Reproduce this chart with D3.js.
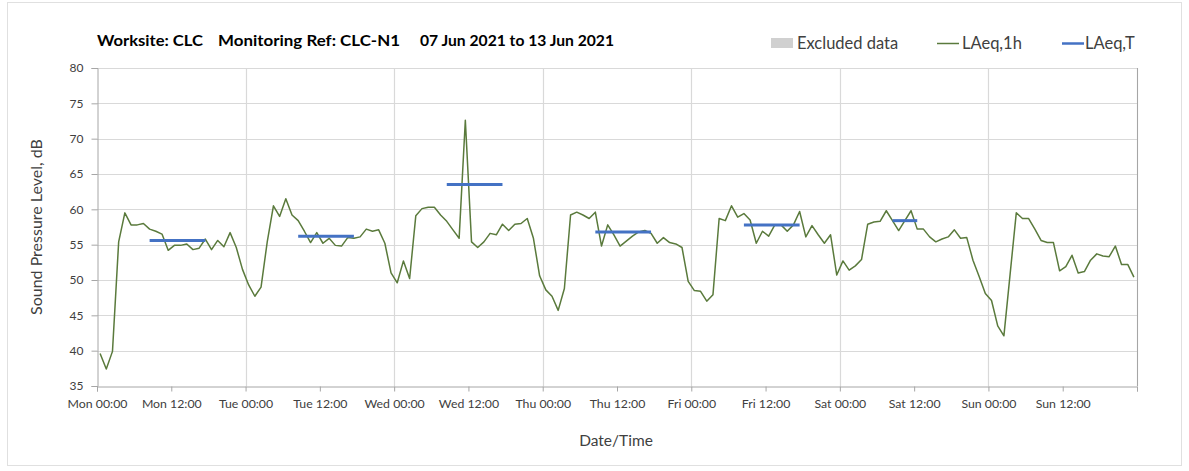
<!DOCTYPE html>
<html>
<head>
<meta charset="utf-8">
<script src="https://cdn.jsdelivr.net/npm/d3@7/dist/d3.min.js"></script>
<style>
  html, body { margin: 0; padding: 0; background: #ffffff; }
  svg { display: block; font-family: Lato, "Open Sans", sans-serif; }
</style>
</head>
<body>
<svg id="chart" width="1189" height="471"></svg>
<script>
// ---- Data ----
const startDate = new Date(2021, 5, 7, 0, 0);   // Mon 07 Jun 2021 00:00
const endDate = new Date(2021, 5, 14, 0, 0);    // Mon 14 Jun 2021 00:00

// Hourly LAeq,1h values (one per hour from Mon 00:00)
const laeq1h = [
  39.6, 37.4, 39.9, 55.4, 59.5, 57.8, 57.8, 58.0, 57.2, 56.9, 56.5, 54.2,
  54.9, 54.9, 55.1, 54.3, 54.5, 55.8, 54.3, 55.6, 54.7, 56.7, 54.6, 51.5,
  49.3, 47.7, 49.0, 55.4, 60.5, 59.0, 61.5, 59.2, 58.4, 56.9, 55.3, 56.7,
  55.2, 55.9, 54.9, 54.8, 56.0, 55.9, 56.1, 57.2, 56.9, 57.1, 55.2, 51.0,
  49.6, 52.7, 50.2, 59.1, 60.1, 60.3, 60.3, 59.2, 58.3, 57.1, 55.9, 72.6,
  55.4, 54.6, 55.4, 56.6, 56.4, 57.9, 57.0, 57.9, 58.0, 58.7, 55.9, 50.6,
  48.6, 47.7, 45.7, 48.8, 59.2, 59.6, 59.2, 58.7, 59.6, 54.8, 57.8, 56.4,
  54.8, 55.5, 56.2, 56.8, 57.0, 56.6, 55.2, 56.0, 55.3, 55.1, 54.6, 49.8,
  48.5, 48.4, 47.0, 47.9, 58.7, 58.4, 60.5, 58.9, 59.4, 58.5, 55.2, 56.9,
  56.2, 57.8, 57.8, 56.9, 57.8, 59.7, 56.1, 57.7, 56.4, 55.2, 56.4, 50.7,
  52.7, 51.4, 52.0, 52.9, 57.9, 58.2, 58.3, 59.8, 58.4, 57.0, 58.4, 59.8,
  57.2, 57.2, 56.1, 55.4, 55.8, 56.1, 57.1, 55.9, 56.0, 52.8, 50.5, 48.1,
  47.1, 43.5, 42.1, 50.8, 59.5, 58.7, 58.7, 57.2, 55.6, 55.3, 55.3, 51.3,
  51.9, 53.5, 51.0, 51.2, 52.8, 53.7, 53.4, 53.3, 54.8, 52.2, 52.2, 50.4
];

// LAeq,T periods: first and last hourly interval (hours from Mon 00:00) and level
const periodFirstHour = [8, 32, 56, 80, 104, 128];
const periodLastHour  = [17, 41, 65, 89, 113, 132];
const laeqT           = [55.6, 56.2, 63.5, 56.8, 57.8, 58.4];

const yTicks = [35, 40, 45, 50, 55, 60, 65, 70, 75, 80];
const dayNames = ["Sun", "Mon", "Tue", "Wed", "Thu", "Fri", "Sat"];

const titleParts = ["Worksite: CLC", "Monitoring Ref: CLC-N1", "07 Jun 2021 to 13 Jun 2021"];
const legendLabels = ["Excluded data", "LAeq,1h", "LAeq,T"];

// ---- Layout ----
const svg = d3.select("#chart");
const W = 1189, H = 471;
const plot = { left: 97, right: 1137, top: 68, bottom: 386 };

const hourMs = 3600 * 1000;
const intervalMid = h => new Date(startDate.getTime() + (h + 0.5) * hourMs);

const x = d3.scaleTime().domain([startDate, endDate]).range([plot.left, plot.right]);
const y = d3.scaleLinear().domain([35, 80]).range([plot.bottom, plot.top]);

const gridColor = "#d9d9d9";
const axisColor = "#a6a6a6";
const textColor = "#404040";
const greenColor = "#5a7a3c";
const blueColor = "#4472c4";

// outer chart border
svg.append("rect")
  .attr("x", 7.5).attr("y", 2.5).attr("width", W - 15).attr("height", H - 8)
  .attr("fill", "none").attr("stroke", "#e0e0e0").attr("stroke-width", 1);

// horizontal gridlines
svg.append("g").selectAll("line").data(yTicks.filter(v => v > 35)).join("line")
  .attr("x1", plot.left).attr("x2", plot.right)
  .attr("y1", d => Math.round(y(d)) + 0.5).attr("y2", d => Math.round(y(d)) + 0.5)
  .attr("stroke", gridColor).attr("stroke-width", 1.2);

// vertical gridlines at day boundaries
const dayTicks = d3.timeDay.range(d3.timeDay.offset(startDate, 1), d3.timeDay.offset(endDate, 1));
svg.append("g").selectAll("line").data(dayTicks).join("line")
  .attr("x1", d => Math.round(x(d)) + 0.5).attr("x2", d => Math.round(x(d)) + 0.5)
  .attr("y1", plot.top).attr("y2", plot.bottom)
  .attr("stroke", gridColor).attr("stroke-width", 1.2);

// right border of plot
svg.append("line")
  .attr("x1", plot.right + 0.5).attr("x2", plot.right + 0.5)
  .attr("y1", plot.top).attr("y2", plot.bottom)
  .attr("stroke", axisColor).attr("stroke-width", 1);

// y axis
const yAxis = d3.axisLeft(y).tickValues(yTicks).tickSize(6).tickPadding(8).tickFormat(d3.format("d"));
const gy = svg.append("g").attr("transform", `translate(${plot.left + 0.5},0)`).call(yAxis);
gy.select(".domain").attr("stroke", axisColor);
gy.selectAll(".tick line").attr("stroke", axisColor);
gy.selectAll(".tick text").attr("fill", textColor).style("font-size", "12px")
  .style("font-family", "Lato, 'Open Sans', sans-serif");

// x axis
const xTickValues = d3.timeHour.every(12).range(startDate, d3.timeHour.offset(endDate, 1));
const fmtTick = d => `${dayNames[d.getDay()]} ${d3.timeFormat("%H:%M")(d)}`;
const xAxis = d3.axisBottom(x).tickValues(xTickValues).tickSize(5).tickPadding(8)
  .tickFormat(d => d.getTime() === endDate.getTime() ? "" : fmtTick(d));
const gx = svg.append("g").attr("transform", `translate(0,${plot.bottom + 0.5})`).call(xAxis);
gx.select(".domain").attr("stroke", axisColor);
gx.selectAll(".tick line").attr("stroke", axisColor);
gx.selectAll(".tick text").attr("fill", textColor).style("font-size", "12.3px")
  .style("font-family", "Lato, 'Open Sans', sans-serif");

// LAeq,1h line
const line = d3.line()
  .x((d, i) => x(intervalMid(i)))
  .y(d => y(d));
svg.append("path").datum(laeq1h)
  .attr("d", line)
  .attr("fill", "none").attr("stroke", greenColor).attr("stroke-width", 1.5)
  .attr("stroke-linejoin", "round");

// LAeq,T segments
svg.append("g").selectAll("line").data(laeqT).join("line")
  .attr("x1", (d, i) => x(intervalMid(periodFirstHour[i])))
  .attr("x2", (d, i) => x(intervalMid(periodLastHour[i])))
  .attr("y1", d => y(d)).attr("y2", d => y(d))
  .attr("stroke", blueColor).attr("stroke-width", 3);

// Title
const titleX = [97, 218, 420];
const titleW = [106, 182, 194];
svg.append("g").selectAll("text").data(titleParts).join("text")
  .attr("x", (d, i) => titleX[i]).attr("y", 46)
  .attr("textLength", (d, i) => titleW[i]).attr("lengthAdjust", "spacingAndGlyphs")
  .attr("fill", "#000").style("font-size", "15px").style("font-weight", "bold")
  .text(d => d);

// Legend
const lg = svg.append("g");
lg.append("rect").attr("x", 771).attr("y", 38).attr("width", 22).attr("height", 10).attr("fill", "#d0d0d0");
lg.append("line").attr("x1", 937).attr("x2", 959).attr("y1", 43.5).attr("y2", 43.5)
  .attr("stroke", greenColor).attr("stroke-width", 1.5);
lg.append("line").attr("x1", 1062).attr("x2", 1084).attr("y1", 43.5).attr("y2", 43.5)
  .attr("stroke", blueColor).attr("stroke-width", 2.5);
const legendX = [797, 962, 1085];
lg.selectAll("text").data(legendLabels).join("text")
  .attr("x", (d, i) => legendX[i]).attr("y", 49)
  .attr("fill", textColor).style("font-size", "16.5px")
  .text(d => d);

// Axis titles
svg.append("text")
  .attr("transform", `translate(42,${(plot.top + plot.bottom) / 2}) rotate(-90)`)
  .attr("text-anchor", "middle").attr("fill", textColor).style("font-size", "16px")
  .text("Sound Pressure Level, dB");
svg.append("text")
  .attr("x", 616).attr("y", 446)
  .attr("text-anchor", "middle").attr("fill", textColor).style("font-size", "15.5px")
  .text("Date/Time");
</script>
</body>
</html>
